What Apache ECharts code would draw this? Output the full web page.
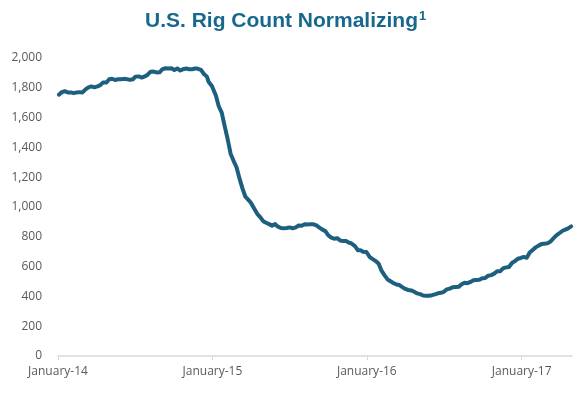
<!DOCTYPE html>
<html>
<head>
<meta charset="utf-8">
<script src="https://cdn.jsdelivr.net/npm/echarts@6/dist/echarts.min.js"></script>
<style>html,body{margin:0;padding:0;background:#fff}#chart{width:577px;height:394px}</style>
</head>
<body>
<div id="chart"></div>
<script>
// Weekly U.S. rig count
const dates = [
'2014-01-03','2014-01-10','2014-01-17','2014-01-24','2014-01-31','2014-02-07','2014-02-14','2014-02-21','2014-02-28',
'2014-03-07','2014-03-14','2014-03-21','2014-03-28','2014-04-04','2014-04-11','2014-04-17','2014-04-25',
'2014-05-02','2014-05-09','2014-05-16','2014-05-23','2014-05-30','2014-06-06','2014-06-13','2014-06-20','2014-06-27',
'2014-07-03','2014-07-11','2014-07-18','2014-07-25','2014-08-01','2014-08-08','2014-08-15','2014-08-22','2014-08-29',
'2014-09-05','2014-09-12','2014-09-19','2014-09-26','2014-10-03','2014-10-10','2014-10-17','2014-10-24','2014-10-31',
'2014-11-07','2014-11-14','2014-11-21','2014-11-26','2014-12-05','2014-12-12','2014-12-19','2014-12-23','2014-12-31',
'2015-01-09','2015-01-16','2015-01-23','2015-01-30','2015-02-06','2015-02-13','2015-02-20','2015-02-27',
'2015-03-06','2015-03-13','2015-03-20','2015-03-27','2015-04-02','2015-04-10','2015-04-17','2015-04-24',
'2015-05-01','2015-05-08','2015-05-15','2015-05-22','2015-05-29','2015-06-05','2015-06-12','2015-06-19','2015-06-26',
'2015-07-02','2015-07-10','2015-07-17','2015-07-24','2015-07-31','2015-08-07','2015-08-14','2015-08-21','2015-08-28',
'2015-09-04','2015-09-11','2015-09-18','2015-09-25','2015-10-02','2015-10-09','2015-10-16','2015-10-23','2015-10-30',
'2015-11-06','2015-11-13','2015-11-20','2015-11-25','2015-12-04','2015-12-11','2015-12-18','2015-12-23','2015-12-31',
'2016-01-08','2016-01-15','2016-01-22','2016-01-29','2016-02-05','2016-02-12','2016-02-19','2016-02-26',
'2016-03-04','2016-03-11','2016-03-18','2016-03-24','2016-04-01','2016-04-08','2016-04-15','2016-04-22','2016-04-29',
'2016-05-06','2016-05-13','2016-05-20','2016-05-27','2016-06-03','2016-06-10','2016-06-17','2016-06-24',
'2016-07-01','2016-07-08','2016-07-15','2016-07-22','2016-07-29','2016-08-05','2016-08-12','2016-08-19','2016-08-26',
'2016-09-02','2016-09-09','2016-09-16','2016-09-23','2016-09-30','2016-10-07','2016-10-14','2016-10-21','2016-10-28',
'2016-11-04','2016-11-11','2016-11-18','2016-11-23','2016-12-02','2016-12-09','2016-12-16','2016-12-23','2016-12-30',
'2017-01-06','2017-01-13','2017-01-20','2017-01-27','2017-02-03','2017-02-10','2017-02-17','2017-02-24',
'2017-03-03','2017-03-10','2017-03-17','2017-03-24','2017-03-31','2017-04-07','2017-04-13','2017-04-21','2017-04-28'
];
const rigCount = [
1754,1771,1777,1769,1769,1764,1769,1771,1769,
1789,1803,1809,1803,1809,1818,1835,1835,
1857,1861,1852,1857,1857,1860,1858,1853,1857,
1875,1876,1869,1876,1888,1908,1909,1903,1904,
1925,1931,1930,1931,1919,1930,1916,1925,1929,
1925,1925,1929,1929,1920,1893,1875,1840,1811,
1750,1676,1633,1543,1456,1358,1310,1267,
1192,1125,1069,1048,1028,988,954,932,
905,894,885,875,885,868,859,857,859,
863,857,863,876,874,884,883,885,884,
877,862,848,838,809,795,787,791,775,
771,771,760,757,737,709,709,700,698,
664,650,637,619,571,541,514,502,
489,480,476,464,450,443,440,431,420,
415,406,404,404,408,414,421,424,
431,447,452,462,463,464,481,491,489,
497,508,510,511,522,524,539,543,553,
569,568,588,593,597,624,637,653,658,
665,659,694,712,729,741,751,754,
756,768,789,809,824,839,847,857,870
];
const tickDates = ['2014-01-01','2015-01-01','2016-01-01','2017-01-01'];
const tickLabels = ['January-14','January-15','January-16','January-17'];
const axisStart = '2014-01-01', axisEnd = '2017-04-30';

const DAY = 86400000;
const t0 = Date.parse(axisStart);
const toDay = s => Math.round((Date.parse(s) - t0) / DAY);
const tickDays = tickDates.map(toDay);
const data = dates.map((d, i) => [toDay(d), rigCount[i]]);

const chart = echarts.init(document.getElementById('chart'), null, {renderer: 'canvas'});
chart.setOption({
  animation: false,
  backgroundColor: '#ffffff',
  title: {
    text: '{a|U.S. Rig Count Normalizing}{b|1}',
    left: 140,
    top: 5,
    textStyle: {
      rich: {
        a: {fontFamily: 'Liberation Sans, Arial', fontWeight: 'bold', fontSize: 21, color: '#17688c'},
        b: {fontFamily: 'Liberation Sans, Arial', fontWeight: 'bold', fontSize: 13, color: '#17688c', verticalAlign: 'top', padding: [0, 0, 10, 1]}
      }
    }
  },
  grid: {left: 58, right: 5, top: 58, bottom: 38, containLabel: false},
  xAxis: {
    type: 'value',
    min: 0,
    max: toDay(axisEnd),
    splitLine: {show: false},
    axisLine: {show: true, lineStyle: {color: '#d9d9d9', width: 1.5}},
    axisTick: {show: true, customValues: tickDays, length: 4, lineStyle: {color: '#d9d9d9'}},
    axisLabel: {
      customValues: tickDays,
      formatter: v => tickLabels[tickDays.indexOf(v)] || '',
      color: '#595959', fontFamily: 'Open Sans', fontSize: 12, margin: 10
    }
  },
  yAxis: {
    type: 'value',
    min: 0, max: 2000, interval: 200,
    axisLine: {show: false},
    axisTick: {show: false},
    splitLine: {show: false},
    axisLabel: {
      formatter: v => v.toLocaleString('en-US'),
      color: '#595959', fontFamily: 'Open Sans', fontSize: 12, margin: 16
    }
  },
  series: [{
    type: 'line',
    data: data,
    showSymbol: false,
    smooth: false,
    lineStyle: {color: '#1c5f7e', width: 4, cap: 'round', join: 'round'}
  }]
});
</script>
</body>
</html>
